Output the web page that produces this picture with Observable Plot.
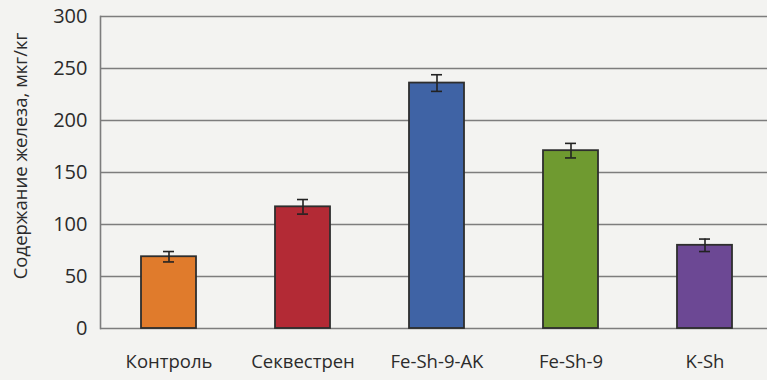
<!DOCTYPE html>
<html>
<head>
<meta charset="utf-8">
<script src="https://cdn.jsdelivr.net/npm/d3@7"></script>
<script src="https://cdn.jsdelivr.net/npm/@observablehq/plot@0.6"></script>
<style>
  html, body { margin: 0; padding: 0; background: #f3f3f1; }
  #chart svg { display: block; background: transparent; }
</style>
</head>
<body>
<div id="chart"></div>
<script>
const categories = ["Контроль", "Секвестрен", "Fe-Sh-9-AK", "Fe-Sh-9", "K-Sh"];
const values = [69, 117, 236, 171, 80];
const errors = [5, 7, 8, 7, 6];
const colors = ["#e07b2c", "#b32a35", "#3f63a5", "#6f9a30", "#6c4894"];
const yTicks = [0, 50, 100, 150, 200, 250, 300];
const yLabel = "Содержание железа, мкг/кг";

const data = categories.map((c, i) => ({cat: c, v: values[i], e: errors[i], color: colors[i]}));

const chart = Plot.plot({
  width: 767,
  height: 380,
  marginTop: 16,
  marginBottom: 52,
  marginLeft: 100,
  marginRight: 0,
  style: {fontFamily: "'Open Sans', sans-serif", fontSize: "19px", color: "#2b2b2b", background: "transparent"},
  x: {domain: categories, range: [100, 772], paddingInner: 0.59, paddingOuter: 0.3, label: null, tickSize: 0},
  y: {domain: [0, 300], ticks: yTicks, label: null, tickSize: 0},
  marks: [
    Plot.gridY(yTicks, {stroke: "#7d7d7d", strokeOpacity: 1, strokeWidth: 1.6}),
    Plot.frame({anchor: "left", stroke: "#7d7d7d", strokeWidth: 1.6}),
    Plot.axisY({ticks: yTicks, tickSize: 0, tickPadding: 13, fontSize: 20, label: null}),
    Plot.axisX({tickSize: 0, tickPadding: 26, fontSize: 18.5, label: null}),
    Plot.text([yLabel], {frameAnchor: "left", y: [166], dx: -79, rotate: -90, textAnchor: "middle", fontSize: 18.5, fill: "#2b2b2b"}),
    Plot.barY(data, {x: "cat", y: "v", fill: "color", stroke: "#2e2e2e", strokeWidth: 1.8}),
    Plot.ruleX(data, {x: "cat", y1: d => d.v - d.e, y2: d => d.v + d.e, stroke: "#222", strokeWidth: 1.6}),
    Plot.tickY(data, {x: "cat", y: d => d.v + d.e, stroke: "#222", strokeWidth: 1.6, insetLeft: 22, insetRight: 22}),
    Plot.tickY(data, {x: "cat", y: d => d.v - d.e, stroke: "#222", strokeWidth: 1.6, insetLeft: 22, insetRight: 22})
  ]
});
document.getElementById("chart").appendChild(chart);
</script>
</body>
</html>
